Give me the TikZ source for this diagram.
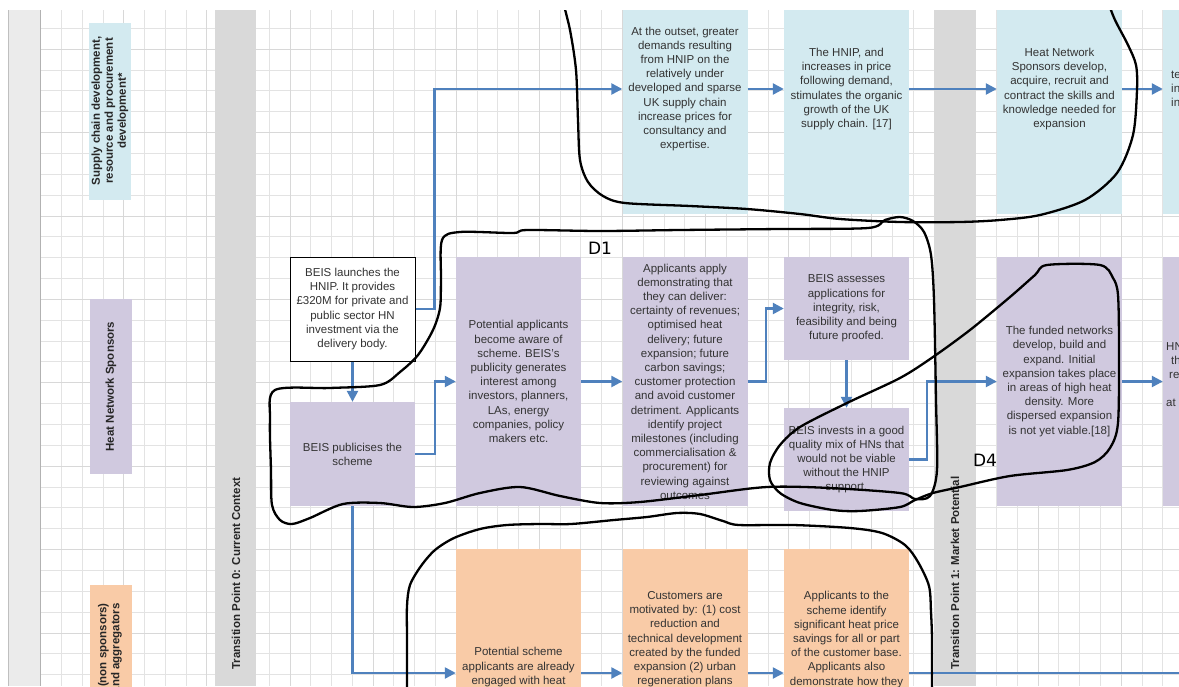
\documentclass[tikz,border=0pt]{standalone}
\usepackage{fontspec}
\setmainfont{Liberation Sans}
\newfontfamily\handfont{DejaVu Sans}
\usetikzlibrary{arrows.meta, positioning}

\definecolor{scblue}{HTML}{D3EAF0}
\definecolor{hnpurple}{HTML}{D0C9DF}
\definecolor{cuorange}{HTML}{F9CBA7}
\definecolor{bandgray}{HTML}{D9D9D9}
\definecolor{stripgray}{HTML}{EBEBEB}
\definecolor{gridminor}{HTML}{E3E3E3}
\definecolor{gridmajor}{HTML}{D8D8D8}
\definecolor{flowblue}{HTML}{4F81BD}
\definecolor{boxtext}{HTML}{333333}

\tikzset{
  stepbox/.style={minimum width=125pt, minimum height=249pt, inner sep=2pt, align=center,
    font=\fontsize{11.5}{14.2}\selectfont, text=boxtext},
  steptext/.style={inner sep=0pt, align=center, font=\fontsize{11.5}{14.2}\selectfont, text=boxtext},
  supplybox/.style={stepbox, fill=scblue},
  sponsorbox/.style={stepbox, fill=hnpurple},
  customerbox/.style={stepbox, fill=cuorange},
  lanelabel/.style={rotate=90, minimum width=177pt, minimum height=42pt, inner sep=0pt, align=center,
    font=\bfseries\fontsize{11.5}{13}\selectfont, text=black!85},
  tplabel/.style={rotate=90, anchor=west, inner sep=0pt, font=\bfseries\fontsize{11.5}{13}\selectfont, text=black!85},
  flow/.style={draw=flowblue, line width=2.4pt, -{Triangle[length=11pt, width=11pt]}},
  hand/.style={draw=black, line width=2.3pt, line join=round, line cap=round},
  dlabel/.style={inner sep=0pt, font=\handfont\fontsize{17}{17}\selectfont},
}

\begin{document}
\begin{tikzpicture}[x=1pt, y=-1pt]
\useasboundingbox (0,0) rectangle (1179,686);
\fill[white] (0,0) rectangle (1179,686);
\clip (0,10) rectangle (1179,686);

% grid
\foreach \i in {0,...,54} \draw[gridminor, line width=1pt] ({40.7+20.78*\i},10) -- ++(0,676);
\foreach \j in {1,...,32} \draw[gridminor, line width=1pt] (40,{7.5+20.85*\j}) -- (1179,{7.5+20.85*\j});
\foreach \i in {0,4,...,52} \draw[gridmajor, line width=1pt] ({40.7+20.78*\i},10) -- ++(0,676);
\foreach \j in {2,6,...,30} \draw[gridmajor, line width=1pt] (40,{7.5+20.85*\j}) -- (1179,{7.5+20.85*\j});

\fill[stripgray] (8,10) rectangle (40.7,686);
\draw[black!25, line width=1pt] (8,10) -- (8,686);
\draw[black!30, line width=1.2pt] (40.7,10) -- (40.7,686);

% transition bands
\fill[bandgray] (215,10) rectangle (256,686);
\fill[bandgray] (934,10) rectangle (976,686);
\node[tplabel] (tp0) at (236,670) {Transition Point 0: Current Context};
\node[tplabel] (tp1) at (955,670) {Transition Point 1: Market Potential};

% lanes
\node[lanelabel, fill=scblue] (supplylane) at (110,111) {Supply chain development,\\resource and procurement\\development*};
\node[lanelabel, fill=hnpurple, minimum width=175pt] (sponsorlane) at (111,386.5) {Heat Network  Sponsors};
\node[lanelabel, fill=cuorange] (customerlane) at (111,673) {};
\node[lanelabel, minimum width=0pt, minimum height=0pt, anchor=east, align=right] (customertext) at (110,603) {Heat customers (non sponsors)\\and aggregators};

% supply chain row
\node[supplybox] (b1) at (685,89) {At the outset, greater\\demands resulting\\from HNIP on the\\relatively under\\developed and sparse\\UK supply chain\\increase prices for\\consultancy and\\expertise.};
\node[supplybox] (b2) at (846.5,89) {The HNIP,  and\\increases in price\\following demand,\\stimulates the organic\\growth of the UK\\supply chain. [17]};
\node[supplybox] (b3) at (1059.5,89) {Heat Network\\Sponsors  develop,\\acquire, recruit and\\contract the skills and\\knowledge needed for\\expansion};
\node[supplybox] (b4) at (1225.5,89) {};
\node[steptext, anchor=west, align=left] (b4text) at (1171,89) {te\\in\\in};

% sponsor row
\node[stepbox, draw=black, line width=1pt, fill=white, minimum height=104pt] (launch) at (352.5,309) {BEIS launches the\\HNIP. It provides\\£320M  for private and\\public sector HN\\investment via the\\delivery body.};
\node[sponsorbox, minimum height=104pt] (publicise) at (352.5,454) {BEIS publicises the\\scheme};
\node[sponsorbox] (p1) at (518.5,381.5) {Potential applicants\\become aware of\\scheme. BEIS's\\publicity generates\\interest among\\investors, planners,\\LAs, energy\\companies, policy\\makers etc.};
\node[sponsorbox] (p2) at (685,381.5) {Applicants apply\\demonstrating that\\they can deliver:\\certainty of revenues;\\optimised heat\\delivery;  future\\expansion;  future\\carbon savings;\\customer protection\\and avoid customer\\detriment.  Applicants\\identify project\\milestones (including\\commercialisation \&\\procurement) for\\reviewing against\\outcomes};
\node[sponsorbox, minimum height=103pt] (p3) at (846.5,308.5) {BEIS  assesses\\applications for\\integrity, risk,\\feasibility and being\\future proofed.};
\node[sponsorbox, minimum height=103pt] (p4) at (846.5,459.5) {BEIS invests in a good\\quality mix of HNs that\\would not be viable\\without the HNIP\\support.};
\node[sponsorbox] (p5) at (1059.5,381.5) {The funded networks\\develop, build and\\expand. Initial\\expansion takes place\\in areas of high heat\\density. More\\dispersed expansion\\is not yet viable.[18]};
\node[sponsorbox] (p6) at (1225.5,381.5) {};
\node[steptext, anchor=west, align=left] (p6text) at (1166,374.5) {HN\\\hspace{5pt}th\\\hspace{3pt}re\\[14.2pt]at};

% customer row
\node[customerbox] (o1) at (518.5,673) {};
\node[customerbox] (o2) at (685,673) {};
\node[customerbox] (o3) at (846.5,673) {};
\node[steptext, below=99pt of o1.north] (o1text) {Potential scheme\\applicants are already\\engaged with heat};
\node[steptext, below=43pt of o2.north] (o2text) {Customers are\\motivated by:  (1)  cost\\reduction and\\technical development\\created by the funded\\expansion (2) urban\\regeneration plans};
\node[steptext, below=43pt of o3.north] (o3text) {Applicants  to the\\scheme identify\\significant heat price\\savings  for all or part\\of the customer base.\\Applicants also\\demonstrate how they};
\coordinate (o4) at (1200,673);

% flows
\draw[flow] (launch.east) -- ++(19,0) |- (b1.west);
\draw[flow] (b1) -- (b2);
\draw[flow] (b2) -- (b3);
\draw[flow] (b3) -- (b4);
\draw[flow] (launch) -- (publicise);
\draw[flow] (publicise.east) -- ++(20,0) |- (p1.west);
\draw[flow] (p1) -- (p2);
\draw[flow] (p2.east) -- ++(18,0) |- (p3.west);
\draw[flow] (p3) -- (p4);
\draw[flow] (p4.east) -- ++(18,0) |- (p5.west);
\draw[flow] (p5) -- (p6);
\draw[flow] (publicise.south) |- (o1.west);
\draw[flow] (o1) -- (o2);
\draw[flow] (o2) -- (o3);
\draw[flow, -] (o3.east) -- (o4);

% hand drawn groupings
\draw[hand] plot[smooth, tension=0.5] coordinates {(563,2) (570,30) (576,70) (578,120) (580,160) (588,182) (603,196) (625,203) (690,206) (747,209) (800,214) (840,219) (900,222) (960,222) (1000,220) (1040,215) (1085,200) (1117,173) (1133,135) (1137,90) (1136,65) (1128,45) (1115,20) (1108,2)};
\draw[hand] plot[smooth cycle, tension=0.5] coordinates {(441,280) (440,308) (433,330) (418,355) (400,372) (380,385) (330,388) (275,390) (270,420) (271,470) (272,505) (280,520) (292,524) (310,518) (343,504) (380,503) (413,507) (445,503) (480,493) (520,487) (560,496) (600,503) (640,502) (700,495) (767,487) (830,488) (900,493) (915,499) (930,496) (937,470) (936,400) (934,300) (931,255) (924,232) (913,221) (900,217) (885,220) (868,228) (780,229) (680,230) (600,231) (527,230) (513,233) (460,232) (442,240)};
\draw[hand] plot[smooth cycle, tension=0.5] coordinates {(1047,265) (1100,265) (1113,278) (1118,295) (1119,350) (1118,423) (1110,448) (1095,462) (1067,470) (1010,476) (960,487) (933,493) (915,500) (900,507) (860,511) (833,510) (800,503) (780,493) (770,480) (770,463) (780,445) (800,427) (847,403) (900,378) (933,357) (970,330) (1010,297) (1035,275)};
\draw[hand] plot[smooth, tension=0.5] coordinates {(407,695) (407,640) (407,606) (410,585) (421,566) (435,550) (454,538) (480,529) (507,525) (540,524) (571,524) (614,520) (647,517) (677,513) (700,514) (723,521) (739,525) (793,525) (850,528) (882,533) (905,545) (918,562) (929,586) (931,612) (932,640) (932,695)};

\node[dlabel] (d1) at (600,248) {D1};
\node[dlabel] (d4) at (985,460) {D4};
\end{tikzpicture}
\end{document}
